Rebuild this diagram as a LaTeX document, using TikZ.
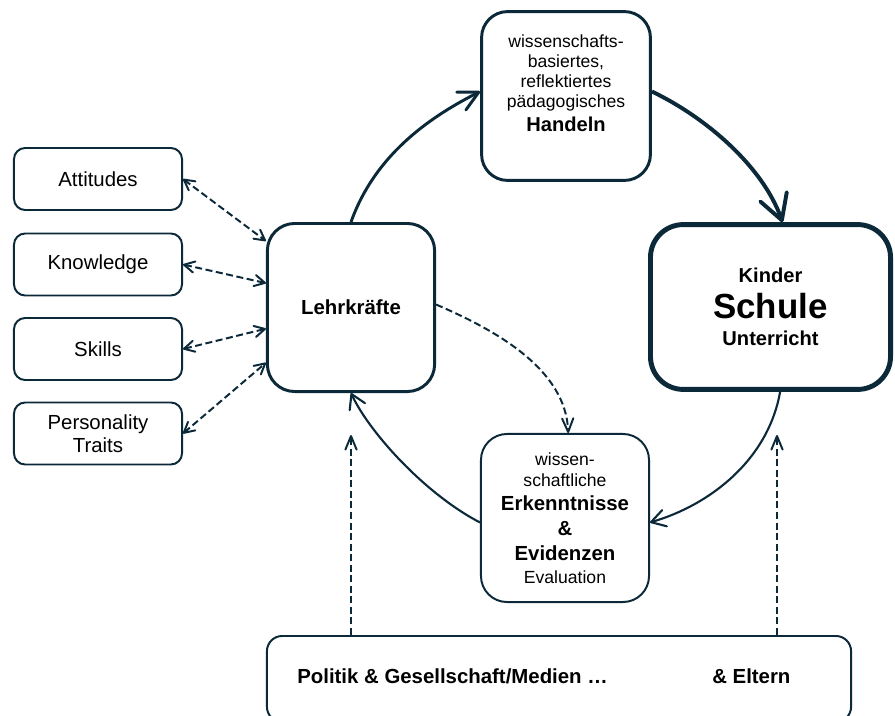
\documentclass[tikz,border=0pt]{standalone}
\usepackage{fontspec}
\setmainfont{Liberation Sans}
\usetikzlibrary{arrows.meta}

\definecolor{navy}{HTML}{0C293A}

\tikzset{
  card/.style={draw=navy, line width=1.4pt, rounded corners=0.28cm,
    minimum width=4.2cm, minimum height=1.55cm, align=center,
    font=\fontsize{14.5}{16.3}\selectfont},
  bigbox/.style={draw=navy, rounded corners=0.65cm, align=center,
    minimum width=4.2cm, minimum height=4.2cm},
  solidarr/.style={draw=navy, line width=1.5pt,
    -{Straight Barb[length=3.5mm, width=4.2mm, round]}},
  dasharr/.style={draw=navy, line width=1.4pt, dash pattern=on 5pt off 2.5pt,
    -{Straight Barb[length=3.4mm, width=2.8mm, round]}},
  dblarr/.style={draw=navy, line width=1.4pt, dash pattern=on 5pt off 2.5pt,
    {Straight Barb[length=2.6mm, width=2.8mm, round]}-{Straight Barb[length=2.6mm, width=2.8mm, round]}},
}

\begin{document}
\begin{tikzpicture}[x=0.025cm, y=-0.025cm]
  \clip (0,0) rectangle (895,716);

  % competences
  \begin{scope}[every node/.style=card]
    \node (att)   at (98,179)   {Attitudes};
    \node (know)  at (98,264.5) {Knowledge};
    \node (skill) at (98,349)   {Skills};
    \node (pers)  at (98,433.5) {Personality\\Traits};
  \end{scope}

  % cycle
  \node[bigbox, line width=2.1pt, minimum width=4.18cm, rounded corners=0.68cm,
        font=\bfseries\fontsize{14.5}{16}\selectfont] (lehr) at (351,307.5) {Lehrkräfte};
  \node[bigbox, line width=2.1pt, minimum width=4.22cm, minimum height=4.22cm,
        font=\fontsize{12.5}{14.2}\selectfont] (hand) at (566,96)
        {wissenschafts-\\basiertes,\\reflektiertes\\pädagogisches\\[3.5pt]
         {\bfseries\fontsize{14.3}{14.2}\selectfont Handeln}\\[4pt]\mbox{}};
  \node[bigbox, line width=3.5pt, minimum width=6cm, minimum height=4.12cm,
        rounded corners=0.82cm, font=\bfseries\fontsize{14.3}{25.2}\selectfont] (schule) at (770.5,307)
        {Kinder\\{\fontsize{24.8}{25.2}\selectfont Schule}\\[-5.7pt]Unterricht};
  \node[bigbox, line width=1.4pt, font=\fontsize{12.5}{15}\selectfont] (evid) at (565,518)
        {wissen-\\schaftliche\\[2pt]
         {\bfseries\fontsize{14.5}{15}\selectfont Erkenntnisse}\\[3pt]
         {\bfseries\fontsize{14.5}{15}\selectfont \&}\\[2.4pt]
         {\bfseries\fontsize{14.5}{15}\selectfont Evidenzen}\\[1.3pt]
         Evaluation};

  % context
  \node[draw=navy, line width=1.4pt, rounded corners=0.38cm,
        minimum width=14.6cm, minimum height=2.15cm] (pol) at (559,679) {};
  \begin{scope}[every node/.style={anchor=west, inner sep=0pt,
        font=\bfseries\fontsize{14.5}{16}\selectfont}]
    \node (polA) at (297,676) {Politik \& Gesellschaft/Medien …};
    \node (polB) at (712,676) {\& Eltern};
  \end{scope}

  \coordinate (tipL) at (351,435);
  \coordinate (tipR) at (777,435);

  \draw[navy, line width=2.1pt, -{Straight Barb[length=4.9mm, width=5mm, round]}]
    (lehr.north) .. controls (376,152) and (434,115) .. (hand.177);
  \draw[navy, line width=2.8pt, -{Straight Barb[length=6.2mm, width=7mm, round]}]
    (hand.3) .. controls (707,118) and (763,167) .. ([xshift=0.3cm]schule.north);
  \draw[solidarr] ([xshift=0.24cm]schule.south) .. controls (768,460) and (710,505) .. (evid.-3);
  \draw[solidarr] (evid.183) .. controls (425,494) and (369,432) .. (lehr.south);
  \draw[dasharr] (lehr.2) .. controls (493,329) and (566,368) .. ([xshift=0.08cm]evid.north);

  \draw[dasharr] (pol.north -| tipL) -- (tipL);
  \draw[dasharr] (pol.north -| tipR) -- (tipR);

  \draw[dblarr] (att.east)   -- (lehr.142);
  \draw[dblarr] (know.east)  -- (lehr.164);
  \draw[dblarr] (skill.east) -- (lehr.194);
  \draw[dblarr] (pers.east)  -- (lehr.213);
\end{tikzpicture}
\end{document}
